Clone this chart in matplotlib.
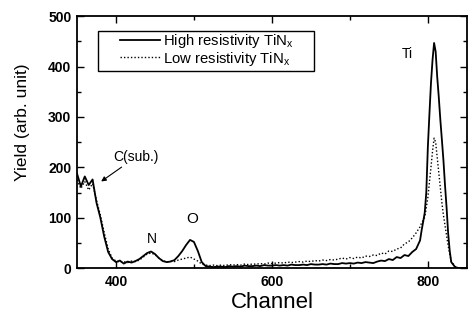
import numpy as np
import matplotlib.pyplot as plt
from matplotlib.patches import Rectangle
from matplotlib.ticker import MultipleLocator

plt.rcParams['font.family'] = ['Liberation Sans', 'DejaVu Sans']

# channels: coarse steps, finer around the Ti peak
channel = np.concatenate([np.arange(350, 791, 5), np.arange(792, 831, 2),
                          np.arange(835, 851, 5)])

high_res = [188, 162, 182, 165, 176, 130, 100, 62, 32, 18,
            12, 15, 9, 13, 11, 14, 18, 24, 30, 33,
            28, 20, 14, 12, 13, 16, 24, 34, 46, 56,
            52, 34, 12, 4, 3, 2, 3, 3, 2, 4,
            3, 4, 3, 5, 4, 4, 5, 4, 6, 5,
            5, 6, 5, 6, 5, 7, 6, 6, 7, 6,
            8, 7, 7, 8, 7, 9, 8, 8, 10, 9,
            10, 9, 11, 10, 12, 11, 10, 13, 15, 14,
            18, 16, 22, 20, 26, 24, 32, 38, 55,
            75, 92, 110, 150, 240, 305, 367, 413, 447, 430,
            380, 340, 295, 255, 214, 165, 121, 70, 35, 12,
            2, 0, 0, 0]

low_res = [175, 158, 172, 155, 168, 135, 105, 70, 38, 20,
           14, 12, 13, 11, 14, 13, 16, 22, 28, 30,
           27, 20, 15, 12, 14, 13, 16, 18, 20, 22,
           18, 14, 8, 6, 5, 6, 5, 6, 5, 7,
           6, 7, 6, 8, 7, 8, 8, 9, 8, 10,
           9, 10, 11, 10, 12, 11, 12, 13, 12, 14,
           13, 15, 14, 16, 15, 17, 16, 18, 20, 18,
           21, 19, 22, 20, 24, 23, 26, 25, 30, 28,
           34, 33, 38, 40, 48, 52, 60, 70, 82,
           90, 95, 101, 120, 140, 170, 200, 232, 258, 250,
           220, 190, 160, 130, 105, 85, 65, 45, 28, 14,
           3, 0, 0, 0]

fig = plt.figure(figsize=(4.68, 3.25), dpi=100)
ax = fig.add_axes([0.1645, 0.175, 0.833, 0.775])

ax.plot(channel, high_res, color='black', lw=1.3, label='High resistivity TiN$_\\mathregular{x}$')
ax.plot(channel, low_res, color='black', lw=1.0, ls=(0, (1, 1.5)),
        label='Low resistivity TiN$_\\mathregular{x}$')

ax.set_xlim(350, 850)
ax.set_ylim(0, 500)
ax.xaxis.set_major_locator(MultipleLocator(200))
ax.xaxis.set_minor_locator(MultipleLocator(100))
ax.yaxis.set_major_locator(MultipleLocator(100))
ax.yaxis.set_minor_locator(MultipleLocator(50))
ax.tick_params(which='both', direction='in', top=True, right=True, width=1)
ax.tick_params(which='major', length=5, labelsize=10, pad=4)
ax.tick_params(axis='x', which='major', pad=5)
ax.tick_params(which='minor', length=3)
for lab in ax.get_xticklabels() + ax.get_yticklabels():
    lab.set_fontweight('bold')
for sp in ax.spines.values():
    sp.set_linewidth(1.3)

ax.set_xlabel('Channel', fontsize=16, labelpad=2)
ax.set_ylabel('Yield (arb. unit)', fontsize=12.5)
ax.yaxis.set_label_coords(-0.12, 0.58)

ax.annotate('C(sub.)', xy=(381, 172), xytext=(396, 212), fontsize=10,
            arrowprops=dict(arrowstyle='-|>', color='black', lw=0.8,
                            mutation_scale=7, shrinkA=0, shrinkB=0))
ax.text(446, 58, 'N', fontsize=10, ha='center', va='center')
ax.text(498, 97, 'O', fontsize=11, ha='center', va='center')
ax.text(774, 425, 'Ti', fontsize=10, ha='center', va='center')

# legend frame drawn separately, wider than the entries
ax.add_patch(Rectangle((0.054, 0.782), 0.554, 0.158, transform=ax.transAxes,
                       fill=False, edgecolor='black', lw=1.0, zorder=5))
ax.legend(loc='upper left', bbox_to_anchor=(0.105, 0.945), fontsize=10.7,
          frameon=False, handlelength=2.7, borderpad=0.15, labelspacing=-0.05,
          handletextpad=0.2, borderaxespad=0)

fig.savefig('out.png', dpi=100)
